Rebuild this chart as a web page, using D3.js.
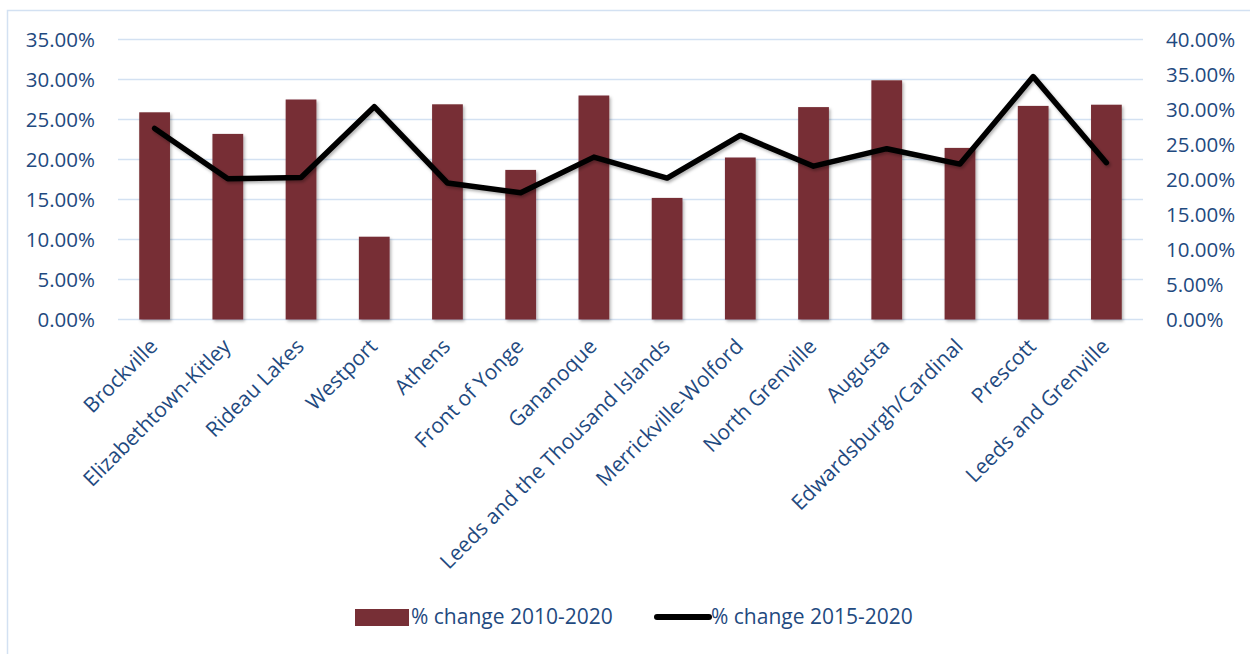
<!DOCTYPE html>
<html>
<head>
<meta charset="utf-8">
<script src="https://cdn.jsdelivr.net/npm/d3@7"></script>
<style>
  html, body { margin: 0; padding: 0; background: #fff; }
  svg { display: block; }
  text { font-family: "Open Sans", sans-serif; fill: #1f4a80; }
</style>
</head>
<body>
<svg id="chart" width="1250" height="654"></svg>
<script>
// Municipalities of Leeds and Grenville
const categories = [
  "Brockville", "Elizabethtown-Kitley", "Rideau Lakes", "Westport", "Athens",
  "Front of Yonge", "Gananoque", "Leeds and the Thousand Islands",
  "Merrickville-Wolford", "North Grenville", "Augusta",
  "Edwardsburgh/Cardinal", "Prescott", "Leeds and Grenville"
];
// Percent change in population 2010-2020 (bars, left axis)
const change2010 = [25.9, 23.2, 27.5, 10.35, 26.9, 18.7, 28.0, 15.2, 20.25, 26.55, 29.9, 21.45, 26.7, 26.85];
// Percent change in population 2015-2020 (line, right axis)
const change2015 = [27.3, 20.1, 20.3, 30.4, 19.5, 18.1, 23.2, 20.2, 26.3, 21.9, 24.4, 22.2, 34.7, 22.4];

const leftTicks = [0, 5, 10, 15, 20, 25, 30, 35];
const rightTicks = [0, 5, 10, 15, 20, 25, 30, 35, 40];
const seriesNames = ["% change 2010-2020", "% change 2015-2020"];

const svg = d3.select("#chart");
const plot = { left: 118, right: 1143, top: 39.5, bottom: 319.5 };
const barColor = "#772f36";
const gridColor = "#d3e1f2";
const textColor = "#1f4a80";

const defs = svg.append("defs");
const shadow = defs.append("filter").attr("id", "shadow")
  .attr("x", "-20%").attr("y", "-20%").attr("width", "140%").attr("height", "140%");
shadow.append("feDropShadow").attr("dx", 1.5).attr("dy", 2).attr("stdDeviation", 1.5)
  .attr("flood-color", "#000").attr("flood-opacity", 0.3);

// chart frame
svg.append("rect").attr("x", 7.5).attr("y", 10.5).attr("width", 1300).attr("height", 700)
  .attr("fill", "none").attr("stroke", gridColor).attr("stroke-width", 1.5);

const x = d3.scaleBand().domain(categories).range([plot.left, plot.right]).paddingInner(0.58).paddingOuter(0.29);
const yL = d3.scaleLinear().domain([0, 35]).range([plot.bottom, plot.top]);
const yR = d3.scaleLinear().domain([0, 40]).range([plot.bottom, plot.top]);
const pct = d => d.toFixed(2) + "%";

// gridlines from the left axis
svg.append("g").selectAll("line").data(leftTicks).join("line")
  .attr("x1", plot.left).attr("x2", plot.right)
  .attr("y1", d => yL(d)).attr("y2", d => yL(d))
  .attr("stroke", gridColor).attr("stroke-width", 1.5);

// left axis labels
const axL = svg.append("g").attr("transform", `translate(${plot.left},0)`)
  .call(d3.axisLeft(yL).tickValues(leftTicks).tickFormat(pct).tickSize(0).tickPadding(23));
axL.select(".domain").remove();
axL.selectAll("text").style("font-size", "20.5px").attr("fill", textColor);

// right axis labels
const axR = svg.append("g").attr("transform", `translate(${plot.right},0)`)
  .call(d3.axisRight(yR).tickValues(rightTicks).tickFormat(pct).tickSize(0).tickPadding(23));
axR.select(".domain").remove();
axR.selectAll("text").style("font-size", "20.5px").attr("fill", textColor);

// bars
svg.append("g").attr("filter", "url(#shadow)").selectAll("rect")
  .data(change2010).join("rect")
  .attr("x", (d, i) => x(categories[i]))
  .attr("width", x.bandwidth())
  .attr("y", d => yL(d))
  .attr("height", d => yL(0) - yL(d))
  .attr("fill", barColor);

// line
const line = d3.line()
  .x((d, i) => x(categories[i]) + x.bandwidth() / 2)
  .y(d => yR(d));
svg.append("path").datum(change2015)
  .attr("d", line)
  .attr("fill", "none").attr("stroke", "#000").attr("stroke-width", 5.5)
  .attr("stroke-linejoin", "round").attr("stroke-linecap", "round")
  .attr("filter", "url(#shadow)");

// category labels, rotated
svg.append("g").selectAll("text").data(categories).join("text")
  .attr("transform", d => `translate(${x(d) + x.bandwidth() / 2 - 1},${plot.bottom + 23}) rotate(-45)`)
  .attr("text-anchor", "end")
  .attr("dy", "0.35em")
  .style("font-size", "21px")
  .text(d => d);

// legend
const legend = svg.append("g");
legend.append("rect").attr("x", 355).attr("y", 609).attr("width", 54).attr("height", 17).attr("fill", barColor);
legend.append("text").attr("x", 411).attr("y", 617).attr("dy", "0.35em").style("font-size", "21px").text(seriesNames[0]);
legend.append("line").attr("x1", 657).attr("x2", 709).attr("y1", 617).attr("y2", 617)
  .attr("stroke", "#000").attr("stroke-width", 6).attr("stroke-linecap", "round");
legend.append("text").attr("x", 711).attr("y", 617).attr("dy", "0.35em").style("font-size", "21px").text(seriesNames[1]);
</script>
</body>
</html>
